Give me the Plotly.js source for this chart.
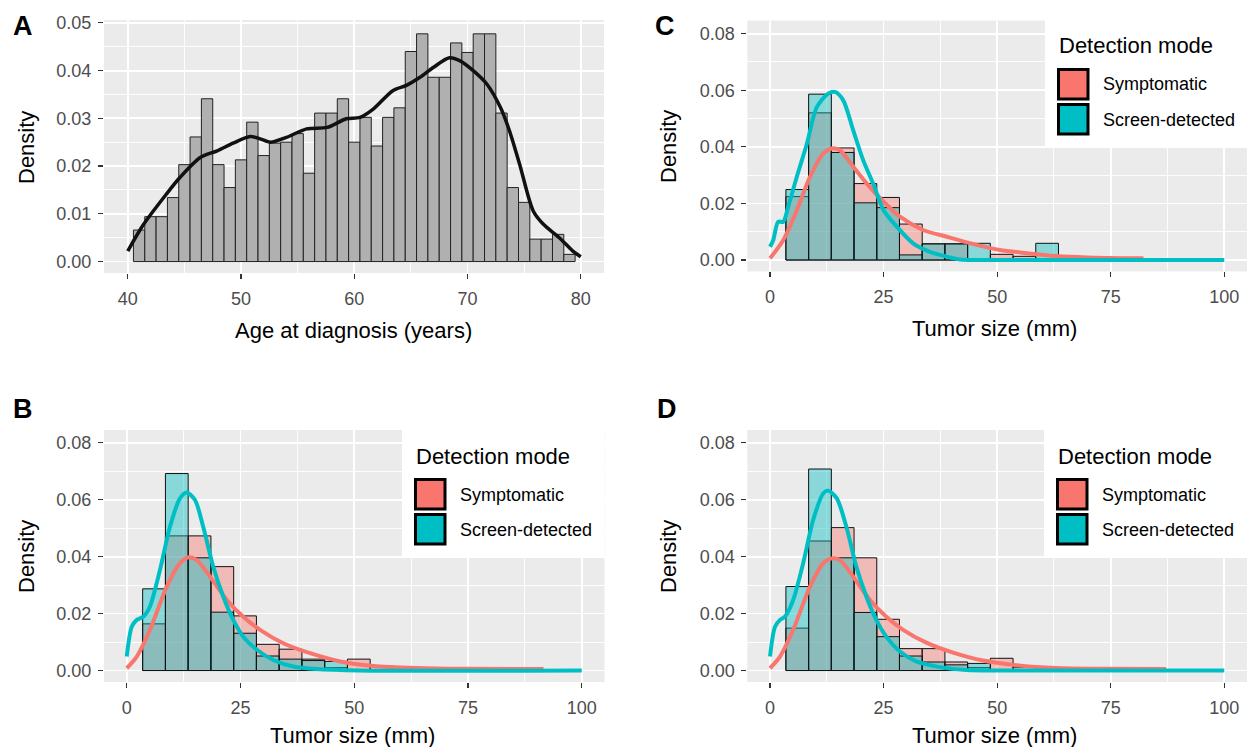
<!DOCTYPE html>
<html>
<head>
<meta charset="utf-8">
<script src="https://cdn.plot.ly/plotly-3.0.1.min.js"></script>
<style>html,body{margin:0;padding:0;background:#fff;}#chart{width:1247px;height:747px;}</style>
</head>
<body>
<div id="chart"></div>
<script>
// ---------- DATA ----------
// Panel A: age histogram (bin width 1, centres) and density curve
const ageBins = [41,42,43,44,45,46,47,48,49,50,51,52,53,54,55,56,57,58,59,60,61,62,63,64,65,66,67,68,69,70,71,72,73,74,75,76,77,78,79];
const ageDensity = [0.0066,0.0094,0.0094,0.0134,0.0203,0.0261,0.0341,0.0203,0.0155,0.0213,0.0292,0.0222,0.0248,0.0250,0.0268,0.0185,0.0311,0.0311,0.0341,0.0250,0.0302,0.0242,0.0302,0.0322,0.0440,0.0477,0.0386,0.0386,0.0458,0.0438,0.0477,0.0477,0.0311,0.0155,0.0124,0.0047,0.0047,0.0057,0.0015];
const ageKdeX = [40,41.4,43.4,44.6,46.4,47.9,49.3,50.8,51.7,52.6,54,55.8,57.6,59.3,60.5,61.7,63.4,64.6,65.8,67,68.4,69.3,70.5,71.7,72.9,73.7,74.6,75.8,76.7,78.1,79.3,80];
const ageKdeY = [0.0022,0.0078,0.0141,0.0176,0.0218,0.0232,0.0248,0.0262,0.0257,0.0250,0.0260,0.0278,0.0281,0.0299,0.0302,0.0320,0.0358,0.0369,0.0386,0.0407,0.0427,0.0421,0.0400,0.0372,0.0323,0.0274,0.0204,0.0106,0.0078,0.0050,0.0022,0.0010];

// Tumor size histograms (bin width 5, centres)
const sizeBins = [6,11,16,21,26,31,36,41,46,51,56,61];
// Panel B
const bSym = [0.0164,0.0473,0.0473,0.0365,0.0192,0.0092,0.0075,0.0040,0.0010,0.0040,0.0016,0];
const bScr = [0.0287,0.0692,0.0396,0.0205,0.0131,0.0051,0.0040,0.0035,0.0032,0,0,0];
const bSymKdeX = [0,2.2,5.1,8.8,11.7,13.6,15.4,18.3,22,25.6,29.3,34.4,40.3,46.9,54.2,63.7,74.7,91.6];
const bSymKdeY = [0.0008,0.0049,0.0143,0.0295,0.0377,0.0398,0.0388,0.0330,0.0248,0.0189,0.0143,0.0096,0.0061,0.0032,0.0016,0.0009,0.0006,0.0005];
const bScrKdeX = [0,1.1,2.2,3.7,5.1,7.3,9.5,11.7,13.2,15,16.8,19,21.2,23.4,25.6,28.6,32.2,36.6,41.8,51,100];
const bScrKdeY = [0.0049,0.0154,0.0178,0.0190,0.0225,0.0353,0.0505,0.0605,0.0625,0.0599,0.0505,0.0365,0.0260,0.0178,0.0119,0.0073,0.0037,0.0014,0.0005,0,0];
// Panel C
const cSym = [0.0224,0.0520,0.0396,0.0270,0.0221,0.0127,0.0057,0.0057,0,0.0020,0.0013,0];
const cScr = [0.0249,0.0586,0.0380,0.0202,0.0185,0.0018,0.0057,0.0057,0.0059,0,0,0.0059];
const cSymKdeX = [0,2.9,5.9,8.8,11.7,13.6,15.4,18.3,21.3,25,28.6,33.7,38.9,44.8,50.6,56.5,63.1,69.7,82.2];
const cSymKdeY = [0.0006,0.0070,0.0176,0.0294,0.0376,0.0394,0.0388,0.0330,0.0270,0.0206,0.0153,0.0106,0.0082,0.0056,0.0035,0.0024,0.0014,0.0009,0.0006];
const cScrKdeX = [0,0.7,1.8,2.9,4,5.9,8.1,10.3,12.8,14.3,16.1,18.3,20.5,22.7,25,27.9,31.5,35.2,38.9,41.8,52,100];
const cScrKdeY = [0.0047,0.0070,0.0135,0.0135,0.0188,0.0294,0.0410,0.0540,0.0588,0.0594,0.0565,0.0459,0.0353,0.0270,0.0176,0.0118,0.0059,0.0029,0.0012,0.0002,0,0];
// Panel D
const dSym = [0.0149,0.0455,0.0502,0.0396,0.0180,0.0077,0.0077,0.0030,0.0010,0.0043,0.0012,0];
const dScr = [0.0295,0.0708,0.0396,0.0204,0.0119,0.0051,0.0030,0.0020,0.0025,0,0,0];
const dSymKdeX = [0,2.2,5.1,8.8,11.7,13.6,15.4,18.3,22,25.6,29.3,34.4,40.3,46.9,54.2,63,74,87.2];
const dSymKdeY = [0.0008,0.0049,0.0143,0.0295,0.0377,0.0394,0.0388,0.0330,0.0248,0.0189,0.0143,0.0098,0.0063,0.0035,0.0019,0.0009,0.0006,0.0005];
const dScrKdeX = [0,1.1,2.2,3.3,5.1,7.3,9.5,11.7,12.8,14.7,16.8,19,21.2,23.4,25.6,28.6,32.2,37.4,43.2,50.5,100];
const dScrKdeY = [0.0049,0.0154,0.0178,0.0190,0.0248,0.0377,0.0529,0.0622,0.0632,0.0605,0.0505,0.0365,0.0260,0.0178,0.0119,0.0067,0.0032,0.0012,0.0002,0,0];

const groupNames = ["Symptomatic", "Screen-detected"];
const legendTitle = "Detection mode";
const panelLetters = ["A", "B", "C", "D"];
const ageTitle = "Age at diagnosis (years)";
const sizeTitle = "Tumor size (mm)";
const densTitle = "Density";

// ---------- STYLE ----------
const W = 1247, H = 747;
const RED = "#F8766D", CYAN = "#00BFC4";
const RED_A = "rgba(248,118,109,0.42)", CYAN_A = "rgba(0,191,196,0.42)";
const FONT = "Liberation Sans, Arial, sans-serif";
const px = v => v / W;
const py = v => 1 - v / H;

const traces = [];
// Panel A
traces.push({type:"bar", x:ageBins, y:ageDensity, width:1, xaxis:"x", yaxis:"y",
  marker:{color:"rgb(176,176,176)", line:{color:"#222", width:1}}, showlegend:false, hoverinfo:"skip"});
traces.push({type:"scatter", mode:"lines", x:ageKdeX, y:ageKdeY, xaxis:"x", yaxis:"y",
  line:{color:"#111", width:3.5, shape:"spline", smoothing:0.8}, showlegend:false, hoverinfo:"skip"});

function tumorPanel(xa, ya, sym, scr, sx, sy, cx, cy) {
  traces.push({type:"bar", x:sizeBins, y:sym, width:5, xaxis:xa, yaxis:ya,
    marker:{color:RED_A, line:{color:"#111", width:1}}, showlegend:false, hoverinfo:"skip"});
  traces.push({type:"bar", x:sizeBins, y:scr, width:5, xaxis:xa, yaxis:ya,
    marker:{color:CYAN_A, line:{color:"#111", width:1}}, showlegend:false, hoverinfo:"skip"});
  traces.push({type:"scatter", mode:"lines", x:sx, y:sy, xaxis:xa, yaxis:ya,
    line:{color:RED, width:4, shape:"spline", smoothing:0.8}, showlegend:false, hoverinfo:"skip"});
  traces.push({type:"scatter", mode:"lines", x:cx, y:cy, xaxis:xa, yaxis:ya,
    line:{color:CYAN, width:4, shape:"spline", smoothing:0.8}, showlegend:false, hoverinfo:"skip"});
}
tumorPanel("x2","y2", cSym, cScr, cSymKdeX, cSymKdeY, cScrKdeX, cScrKdeY);
tumorPanel("x3","y3", bSym, bScr, bSymKdeX, bSymKdeY, bScrKdeX, bScrKdeY);
tumorPanel("x4","y4", dSym, dScr, dSymKdeX, dSymKdeY, dScrKdeX, dScrKdeY);

const tickFont = {family:FONT, size:18, color:"#4D4D4D"};
function xax(domain, range, dtick, tick0, minor, anchor) {
  return {domain, range, dtick, tick0, tickmode:"linear", anchor, showgrid:true, gridcolor:"#fff", gridwidth:1.8,
    minor:{dtick:minor, tick0:tick0, showgrid:true, gridcolor:"#fff", gridwidth:0.9},
    zeroline:false, showline:false, ticks:"outside", ticklen:5, tickwidth:1.2, tickcolor:"#333",
    tickfont:tickFont, ticklabelstandoff:4, fixedrange:true};
}
function yax(domain, range, dtick, fmt, anchor) {
  return {domain, range, dtick, tick0:0, tickmode:"linear", anchor, tickformat:fmt, showgrid:true, gridcolor:"#fff", gridwidth:1.8,
    minor:{dtick:dtick/2, tick0:0, showgrid:true, gridcolor:"#fff", gridwidth:0.9},
    zeroline:false, showline:false, ticks:"outside", ticklen:5, tickwidth:1.2, tickcolor:"#333",
    tickfont:tickFont, ticklabelstandoff:3, fixedrange:true};
}

const layout = {
  width:W, height:H, margin:{l:0,r:0,t:0,b:0}, paper_bgcolor:"#fff", plot_bgcolor:"#EBEBEB",
  barmode:"overlay", bargap:0, showlegend:false, font:{family:FONT},
  xaxis: xax([px(104), px(604)], [37.9, 82.05], 10, 40, 5, "y"),
  yaxis: yax([py(273), py(20)], [-0.0024, 0.0506], 0.01, ".2f", "x"),
  xaxis2: xax([px(747.3), 1], [-5, 105], 25, 0, 12.5, "y2"),
  yaxis2: yax([py(271.4), py(20.6)], [-0.00403, 0.0846], 0.02, ".2f", "x2"),
  xaxis3: xax([px(104), px(604.5)], [-5, 105], 25, 0, 12.5, "y3"),
  yaxis3: yax([py(682), py(430)], [-0.00403, 0.0845], 0.02, ".2f", "x3"),
  xaxis4: xax([px(747.3), 1], [-5, 105], 25, 0, 12.5, "y4"),
  yaxis4: yax([py(682), py(430)], [-0.00403, 0.0845], 0.02, ".2f", "x4"),
  shapes: [], annotations: []
};
// Plotly needs the subplot backgrounds; plot_bgcolor applies to all.

function ann(text, x, y, size, opts) {
  layout.annotations.push(Object.assign({text, x:px(x), y:py(y), xref:"paper", yref:"paper", showarrow:false,
    font:{family:FONT, size, color:"#000"}, xanchor:"center", yanchor:"middle"}, opts||{}));
}
// Panel letters
ann(panelLetters[0], 23, 26, 27, {font:{family:FONT, size:27, color:"#000", weight:700}});
ann(panelLetters[1], 23, 409, 27, {font:{family:FONT, size:27, color:"#000", weight:700}});
ann(panelLetters[2], 665, 26, 27, {font:{family:FONT, size:27, color:"#000", weight:700}});
ann(panelLetters[3], 667, 409, 27, {font:{family:FONT, size:27, color:"#000", weight:700}});
// Axis titles
ann(ageTitle, 353, 331, 22);
ann(sizeTitle, 994, 329, 22);
ann(sizeTitle, 352, 735, 22);
ann(sizeTitle, 994, 735, 22);
ann(densTitle, 26, 148, 22, {textangle:-90});
ann(densTitle, 668, 147, 22, {textangle:-90});
ann(densTitle, 26, 557, 22, {textangle:-90});
ann(densTitle, 668, 557, 22, {textangle:-90});

// Legends (ggplot style)
function legendBox(x0, y0, x1, y1) {
  layout.shapes.push({type:"rect", xref:"paper", yref:"paper", x0:px(x0), x1:px(x1), y0:py(y1), y1:py(y0),
    fillcolor:"#fff", line:{width:0}, layer:"above"});
  ann(legendTitle, x0 + 12, y0 + 31, 22, {xanchor:"left"});
  const keys = [[RED, y0 + 53], [CYAN, y0 + 88]];
  keys.forEach((k, i) => {
    layout.shapes.push({type:"rect", xref:"paper", yref:"paper", x0:px(x0 + 13.5), x1:px(x0 + 43), y0:py(k[1] + 31), y1:py(k[1] + 1.5),
      fillcolor:k[0], line:{color:"#000", width:3}, layer:"above"});
    ann(groupNames[i], x0 + 56, k[1] + 16.5, 18, {xanchor:"left"});
  });
}
legendBox(1045, 15, 1247, 146);
legendBox(402, 425, 604.5, 556);
legendBox(1044, 425, 1247, 556);

Plotly.newPlot("chart", traces, layout, {staticPlot:true, displayModeBar:false});
</script>
</body>
</html>
